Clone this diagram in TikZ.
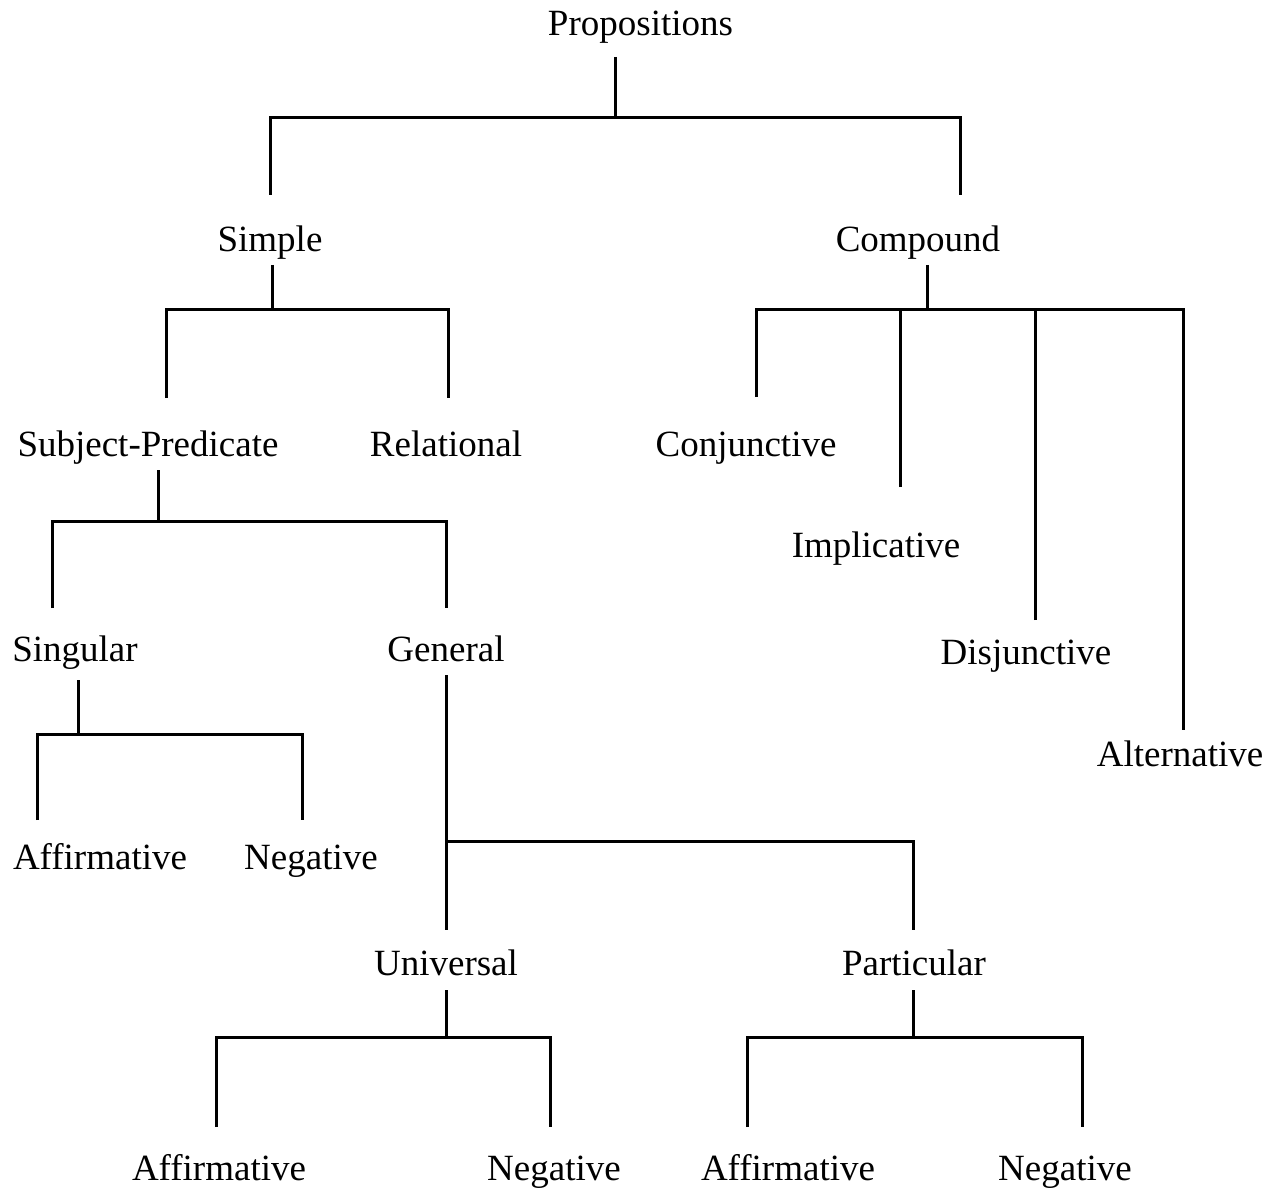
\documentclass[tikz,border=0pt]{standalone}
\usepackage{fontspec}
\setmainfont{Liberation Serif}
\begin{document}
\begin{tikzpicture}[x=1pt,y=-1pt,
  term/.style={anchor=base,inner sep=0pt,font=\fontsize{37}{44}\selectfont},
  link/.style={line width=3pt,line cap=butt,line join=miter}]
\useasboundingbox (0,0) rectangle (1275,1190);

% terms of the classification
\node[term] (prop) at (640.5,36) {Propositions};
\node[term] (simple) at (270,252) {Simple};
\node[term] (compound) at (918,252) {Compound};
\node[term] (subjpred) at (148,456) {Subject-Predicate};
\node[term] (relational) at (446,456) {Relational};
\node[term] (conj) at (746,456) {Conjunctive};
\node[term] (impl) at (876,557) {Implicative};
\node[term] (disj) at (1026,664) {Disjunctive};
\node[term] (alt) at (1180,766) {Alternative};
\node[term] (singular) at (75,661) {Singular};
\node[term] (general) at (446,661) {General};
\node[term] (sAff) at (100,869) {Affirmative};
\node[term] (sNeg) at (311,869) {Negative};
\node[term] (universal) at (446,975) {Universal};
\node[term] (particular) at (914,975) {Particular};
\node[term] (uAff) at (219,1180) {Affirmative};
\node[term] (uNeg) at (554,1180) {Negative};
\node[term] (pAff) at (788,1180) {Affirmative};
\node[term] (pNeg) at (1065,1180) {Negative};

% stem and branch ends
\coordinate (propStem) at (615,57);
\coordinate (propBar) at (615,118);
\coordinate (toSimple) at (270,195);
\coordinate (toCompound) at (960,195);

\coordinate (simpleStem) at (272,265);
\coordinate (simpleBar) at (272,310);
\coordinate (toSubjpred) at (166,398);
\coordinate (toRelational) at (448,398);

\coordinate (compoundStem) at (927,265);
\coordinate (compoundBar) at (927,310);
\coordinate (toConj) at (756,397);
\coordinate (toImpl) at (900,487);
\coordinate (toDisj) at (1035,620);
\coordinate (toAlt) at (1183,730);

\coordinate (spStem) at (158,470);
\coordinate (spBar) at (158,521);
\coordinate (toSingular) at (52,608);
\coordinate (toGeneral) at (446,608);

\coordinate (singStem) at (78,680);
\coordinate (singBar) at (78,734);
\coordinate (toSAff) at (37,820);
\coordinate (toSNeg) at (302,820);

\coordinate (genStem) at (446,675);
\coordinate (genBar) at (446,841);
\coordinate (toUniversal) at (446,930);
\coordinate (toParticular) at (913,930);

\coordinate (uniStem) at (446,990);
\coordinate (uniBar) at (446,1037);
\coordinate (toUAff) at (216,1127);
\coordinate (toUNeg) at (550,1127);

\coordinate (partStem) at (913,990);
\coordinate (partBar) at (913,1037);
\coordinate (toPAff) at (747,1127);
\coordinate (toPNeg) at (1082,1127);

% connectors
\draw[link] (propStem) -- (propBar);
\draw[link] (toSimple) |- (propBar) -| (toCompound);

\draw[link] (simpleStem) -- (simpleBar);
\draw[link] (toSubjpred) |- (simpleBar) -| (toRelational);

\draw[link] (compoundStem) -- (compoundBar);
\draw[link] (toConj) |- (compoundBar) -| (toAlt);
\draw[link] (toImpl) -- (toImpl |- compoundBar);
\draw[link] (toDisj) -- (toDisj |- compoundBar);

\draw[link] (spStem) -- (spBar);
\draw[link] (toSingular) |- (spBar) -| (toGeneral);

\draw[link] (singStem) -- (singBar);
\draw[link] (toSAff) |- (singBar) -| (toSNeg);

\draw[link] (genStem) -- (toUniversal);
\draw[link] (genBar) -| (toParticular);

\draw[link] (uniStem) -- (uniBar);
\draw[link] (toUAff) |- (uniBar) -| (toUNeg);

\draw[link] (partStem) -- (partBar);
\draw[link] (toPAff) |- (partBar) -| (toPNeg);
\end{tikzpicture}
\end{document}
